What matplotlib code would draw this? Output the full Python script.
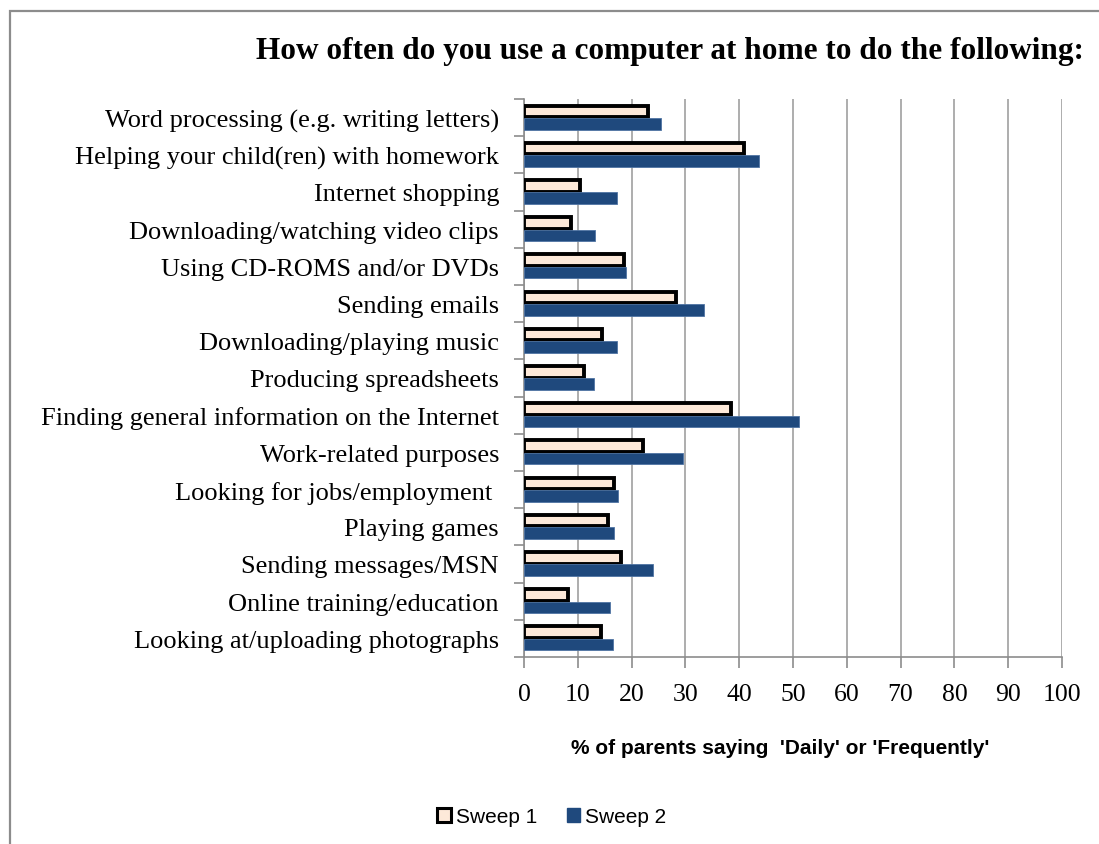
import matplotlib
matplotlib.use("Agg")
import matplotlib.pyplot as plt
from matplotlib.patches import Rectangle, Patch
import numpy as np

categories = [
    "Word processing (e.g. writing letters)",
    "Helping your child(ren) with homework",
    "Internet shopping",
    "Downloading/watching video clips",
    "Using CD-ROMS and/or DVDs",
    "Sending emails",
    "Downloading/playing music",
    "Producing spreadsheets",
    "Finding general information on the Internet",
    "Work-related purposes",
    "Looking for jobs/employment ",
    "Playing games",
    "Sending messages/MSN",
    "Online training/education",
    "Looking at/uploading photographs",
]
sweep1 = [23.0, 40.9, 10.4, 8.7, 18.5, 28.3, 14.5, 11.2, 38.5, 22.1, 16.7, 15.7, 18.1, 8.1, 14.3]
sweep2 = [25.5, 43.6, 17.2, 13.2, 18.9, 33.4, 17.2, 13.0, 51.2, 29.6, 17.4, 16.7, 23.9, 16.0, 16.5]
series_names = ["Sweep 1", "Sweep 2"]

serif = "Liberation Serif"
narrow = ["Liberation Sans Narrow", "Liberation Sans"]

fig = plt.figure(figsize=(10.99, 8.45), dpi=100)
ax = fig.add_axes([524 / 1099, 1 - 658 / 845, 538 / 1099, 558 / 845])

# frame around the chart (cropped on the right and bottom)
fig.patches.append(Rectangle((10 / 1099, -0.1), 1.2, 0.1 + (1 - 12 / 845),
                             transform=fig.transFigure, fill=False,
                             edgecolor="#8c8c8c", linewidth=1.6))

y = np.arange(len(categories))
h = 0.31
ax.barh(y - 0.165, sweep1, height=h, color="#fde9d9", edgecolor="black",
        linewidth=2.8, label=series_names[0], zorder=3)
ax.barh(y + 0.165, sweep2, height=h, color="#1f497d", edgecolor="#4f74a3",
        linewidth=0.6, label=series_names[1], zorder=3)

ax.set_xlim(0, 100)
ax.set_ylim(len(categories) - 0.5, -0.5)
ax.set_xticks(np.arange(0, 101, 10))
ax.set_xticklabels([str(v) for v in range(0, 101, 10)], fontsize=18.5, family=serif)
ax.set_yticks(np.arange(len(categories) + 1) - 0.5, minor=True)
ax.set_yticks(y)
ax.set_yticklabels(categories, fontsize=19, family=serif)
ax.tick_params(axis="y", which="major", length=0, pad=18)
ax.tick_params(axis="y", which="minor", length=7, color="#8c8c8c", width=1.2)
ax.tick_params(axis="x", length=8, color="#8c8c8c", width=1.2, pad=11)
ax.xaxis.grid(True, color="#a0a0a0", linewidth=1.2, zorder=0)
ax.set_axisbelow(True)
for side in ["top", "right"]:
    ax.spines[side].set_visible(False)
for side in ["left", "bottom"]:
    ax.spines[side].set_color("#8c8c8c")
    ax.spines[side].set_linewidth(1.2)

fig.text(780 / 1099, 1 - 749 / 845, "% of parents saying  'Daily' or 'Frequently'",
         fontsize=15, family=narrow, fontweight="bold", ha="center", va="center")

fig.text(256 / 1099, 1 - 52 / 845, "How often do you use a computer at home to do the following:",
         fontsize=22.5, family=serif, fontweight="bold", va="center", ha="left")

handles = [Patch(facecolor="#fde9d9", edgecolor="black", linewidth=2.2),
           Patch(facecolor="#1f497d", edgecolor="#1f497d")]
fig.legend(handles, series_names, loc="center", bbox_to_anchor=(552 / 1099, 1 - 818 / 845),
           ncol=2, frameon=False, prop={"family": narrow, "size": 15},
           handlelength=0.65, handleheight=0.65, handletextpad=0.25, columnspacing=1.4)

fig.savefig("out.png", dpi=100)
